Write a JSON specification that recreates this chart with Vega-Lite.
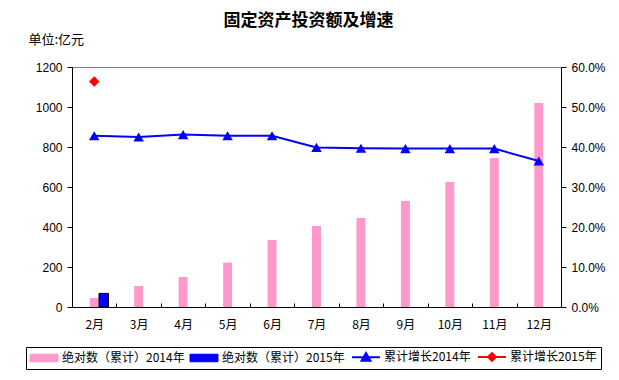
{
  "$schema": "https://vega.github.io/schema/vega-lite/v6.json",
  "width": 489,
  "height": 240,
  "autosize": "none",
  "padding": {"left": 72, "top": 67, "right": 58, "bottom": 73},
  "background": "white",
  "title": {"text": "固定资产投资额及增速", "font": "Noto Sans CJK SC", "fontSize": 17, "fontWeight": "bold", "anchor": "middle", "offset": 3, "dx": -8, "color": "black"},
  "config": {
    "view": {"stroke": "#808080", "strokeWidth": 1},
    "axis": {"domainColor": "black", "tickColor": "black", "labelColor": "black", "grid": false, "labelFont": "Liberation Sans", "labelFontSize": 12},
    "legend": {"strokeColor": "black", "strokeWidth": 1, "padding": 4}
  },
  "data": {"values": [
    {"month": "2月", "kind": "amount", "series": "绝对数（累计）2014年", "value": 45},
    {"month": "3月", "kind": "amount", "series": "绝对数（累计）2014年", "value": 105},
    {"month": "4月", "kind": "amount", "series": "绝对数（累计）2014年", "value": 150},
    {"month": "5月", "kind": "amount", "series": "绝对数（累计）2014年", "value": 222},
    {"month": "6月", "kind": "amount", "series": "绝对数（累计）2014年", "value": 335},
    {"month": "7月", "kind": "amount", "series": "绝对数（累计）2014年", "value": 405},
    {"month": "8月", "kind": "amount", "series": "绝对数（累计）2014年", "value": 445},
    {"month": "9月", "kind": "amount", "series": "绝对数（累计）2014年", "value": 530},
    {"month": "10月", "kind": "amount", "series": "绝对数（累计）2014年", "value": 625},
    {"month": "11月", "kind": "amount", "series": "绝对数（累计）2014年", "value": 745},
    {"month": "12月", "kind": "amount", "series": "绝对数（累计）2014年", "value": 1020},
    {"month": "2月", "kind": "amount", "series": "绝对数（累计）2015年", "value": 68},
    {"month": "2月", "kind": "growth", "series": "累计增长2014年", "value": 0.428},
    {"month": "3月", "kind": "growth", "series": "累计增长2014年", "value": 0.425},
    {"month": "4月", "kind": "growth", "series": "累计增长2014年", "value": 0.431},
    {"month": "5月", "kind": "growth", "series": "累计增长2014年", "value": 0.428},
    {"month": "6月", "kind": "growth", "series": "累计增长2014年", "value": 0.428},
    {"month": "7月", "kind": "growth", "series": "累计增长2014年", "value": 0.399},
    {"month": "8月", "kind": "growth", "series": "累计增长2014年", "value": 0.397},
    {"month": "9月", "kind": "growth", "series": "累计增长2014年", "value": 0.396},
    {"month": "10月", "kind": "growth", "series": "累计增长2014年", "value": 0.396},
    {"month": "11月", "kind": "growth", "series": "累计增长2014年", "value": 0.396},
    {"month": "12月", "kind": "growth", "series": "累计增长2014年", "value": 0.365},
    {"month": "2月", "kind": "growth", "series": "累计增长2015年", "value": 0.564}
  ]},
  "layer": [
    {
      "transform": [{"filter": "datum.kind == 'amount'"}],
      "encoding": {
        "x": {
          "field": "month", "type": "ordinal",
          "sort": ["2月", "3月", "4月", "5月", "6月", "7月", "8月", "9月", "10月", "11月", "12月"],
          "scale": {"paddingInner": 0, "paddingOuter": 0},
          "axis": {"title": null, "labelAngle": 0, "tickBand": "extent", "tickSize": -4, "labelPadding": 16, "labelFont": "Noto Sans CJK SC", "labelFontSize": 12}
        },
        "y": {
          "field": "value", "type": "quantitative",
          "scale": {"domain": [0, 1200], "nice": false},
          "axis": {"values": [0, 200, 400, 600, 800, 1000, 1200], "format": "d", "tickSize": 5, "labelPadding": 5,
                   "title": "单位:亿元", "titleAngle": 0, "titleAlign": "left", "titleBaseline": "middle",
                   "titleX": -44, "titleY": -28, "titleFont": "Noto Sans CJK SC", "titleFontSize": 13, "titleFontWeight": "normal", "titleColor": "black"}
        },
        "color": {
          "field": "series", "type": "nominal",
          "scale": {"domain": ["绝对数（累计）2014年", "绝对数（累计）2015年", "累计增长2014年", "累计增长2015年"], "range": ["#FF99CC", "#0000FF", "#0000FF", "#FF0000"]},
          "legend": {
            "title": null, "orient": "none", "legendX": -46, "legendY": 280, "direction": "horizontal", "columns": 4,
            "strokeColor": "black", "fillColor": "white", "padding": 4, "symbolSize": 784, "symbolOffset": 8, "labelFont": "Noto Sans CJK SC", "labelFontSize": 12,
            "labelColor": "black", "labelOffset": 12, "columnPadding": 3,
            "encode": {
              "legend": {"update": {"stroke": {"value": "black"}, "strokeWidth": {"value": 1}, "fill": {"value": "white"}}},
              "symbols": {"update": {
                "shape": {"signal": "datum.value=='累计增长2014年' ? 'M-1,0H1M-0.32,0.26L0,-0.3L0.32,0.26Z' : datum.value=='累计增长2015年' ? 'M-1,0H1M-0.28,0L0,-0.28L0.28,0L0,0.28Z' : 'M-1,-0.27H1V0.27H-1Z'"},
                "fill": {"signal": "datum.value=='绝对数（累计）2014年' ? '#FF99CC' : datum.value=='累计增长2015年' ? '#FF0000' : '#0000FF'"},
                "stroke": {"signal": "datum.value=='绝对数（累计）2014年' ? '#FF99CC' : datum.value=='累计增长2015年' ? '#FF0000' : datum.value=='绝对数（累计）2015年' ? 'black' : '#0000FF'"},
                "strokeWidth": {"signal": "datum.value=='累计增长2014年' || datum.value=='累计增长2015年' ? 2 : 1"},
                "opacity": {"value": 1}
              }}
            }
          }
        }
      },
      "layer": [
        {"transform": [{"filter": "datum.series == '绝对数（累计）2014年'"}], "mark": {"type": "bar", "width": 9}},
        {"transform": [{"filter": "datum.series == '绝对数（累计）2015年'"}], "mark": {"type": "bar", "width": 9.5, "xOffset": 9.5, "stroke": "black", "strokeWidth": 1}}
      ]
    },
    {
      "transform": [{"filter": "datum.kind == 'growth'"}],
      "encoding": {
        "x": {
          "field": "month", "type": "ordinal",
          "sort": ["2月", "3月", "4月", "5月", "6月", "7月", "8月", "9月", "10月", "11月", "12月"]
        },
        "y": {
          "field": "value", "type": "quantitative",
          "scale": {"domain": [0, 0.6], "nice": false},
          "axis": {"orient": "right", "values": [0, 0.1, 0.2, 0.3, 0.4, 0.5, 0.6], "format": ".1%", "tickSize": 5, "labelPadding": 5, "title": null}
        },
        "color": {"field": "series", "type": "nominal"}
      },
      "layer": [
        {"transform": [{"filter": "datum.series == '累计增长2014年'"}], "mark": {"type": "line", "strokeWidth": 2, "point": {"shape": "triangle-up", "size": 110, "filled": true, "opacity": 1}}},
        {"transform": [{"filter": "datum.series == '累计增长2015年'"}], "mark": {"type": "point", "shape": "diamond", "size": 110, "filled": true, "opacity": 1}}
      ]
    }
  ],
  "resolve": {"scale": {"y": "independent"}}
}
